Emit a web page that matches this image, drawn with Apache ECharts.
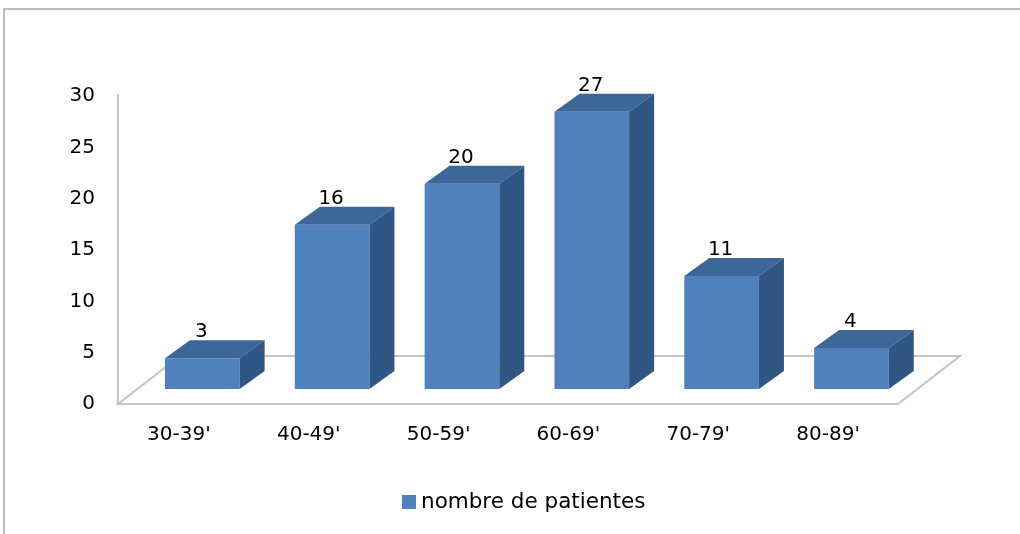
<!DOCTYPE html>
<html>
<head>
<meta charset="utf-8">
<script src="https://cdn.jsdelivr.net/npm/echarts@6/dist/echarts.min.js"></script>
<style>
  html, body { margin: 0; padding: 0; background: #ffffff; }
  #chart { width: 1020px; height: 534px; }
</style>
</head>
<body>
<div id="chart"></div>
<script>
// Age groups and patient counts
var categories = ["30-39'", "40-49'", "50-59'", "60-69'", "70-79'", "80-89'"];
var patients = [3, 16, 20, 27, 11, 4];
var seriesName = 'nombre de patientes';
var yTicks = { min: 0, max: 30, interval: 5 };

var FONT = '"DejaVu Sans", "Open Sans", sans-serif';
var FRONT = '#4f81bd';
var TOP = '#3d6699';
var SIDE = '#305683';
var FLOOR = '#c4c4c4';

var chart = echarts.init(document.getElementById('chart'), null, { renderer: 'canvas' });

// Floor plane and vertical axis line, drawn behind the columns
function renderFloor(params, api) {
  var cs = params.coordSys;
  var y0 = api.coord([0, 0])[1];
  var yMax = api.coord([0, yTicks.max])[1];
  var xl = cs.x + 4, xr = cs.x + cs.width + 5;
  var dx = 62, dy = 48;
  return {
    type: 'group',
    children: [
      {
        type: 'polygon',
        shape: { points: [[xl, y0], [xl + dx, y0 - dy], [xr + dx, y0 - dy], [xr, y0]] },
        style: { fill: '#ffffff', stroke: FLOOR, lineWidth: 2 }
      },
      {
        type: 'line',
        shape: { x1: xl, y1: yMax - 2, x2: xl, y2: y0 },
        style: { stroke: FLOOR, lineWidth: 2 }
      }
    ]
  };
}

// 3D-looking column: front face, top face, right side face and value label
function renderBar(params, api) {
  var idx = api.value(0), val = api.value(1);
  var top = api.coord([idx, val]);
  var base = api.coord([idx, 0]);
  var band = api.size([1, 0])[0];
  var w = band * 0.575;
  var dx = 25, dy = 18, lift = 15;
  var cx = top[0] + band * 0.18;
  var x0 = cx - w / 2, x1 = cx + w / 2;
  var yb = base[1] - lift, yt = top[1] - lift;
  return {
    type: 'group',
    children: [
      {
        type: 'rect',
        shape: { x: x0, y: yt, width: w, height: yb - yt },
        style: { fill: FRONT }
      },
      {
        type: 'polygon',
        shape: { points: [[x0, yt], [x0 + dx, yt - dy], [x1 + dx, yt - dy], [x1, yt]] },
        style: { fill: TOP }
      },
      {
        type: 'polygon',
        shape: { points: [[x1, yt], [x1 + dx, yt - dy], [x1 + dx, yb - dy], [x1, yb]] },
        style: { fill: SIDE }
      },
      {
        type: 'text',
        z2: 10,
        style: {
          x: cx - 1, y: yt - dy - 8,
          text: String(val),
          fill: '#000000',
          font: '20px ' + FONT,
          textAlign: 'center', textVerticalAlign: 'middle'
        }
      }
    ]
  };
}

var option = {
  backgroundColor: '#ffffff',
  animation: false,
  graphic: [{
    type: 'rect',
    shape: { x: 4, y: 9, width: 1100, height: 700 },
    style: { fill: 'none', stroke: '#a6a6a6', lineWidth: 1.5 },
    silent: true
  }],
  grid: { left: 114, right: 127, top: 96, bottom: 130 },
  legend: {
    left: 397, top: 486,
    icon: 'rect', itemWidth: 14, itemHeight: 14, itemGap: 8,
    textStyle: { fontFamily: FONT, fontSize: 21.5, color: '#000000' },
    data: [seriesName]
  },
  xAxis: {
    type: 'category',
    data: categories,
    axisLine: { show: false },
    axisTick: { show: false },
    axisLabel: { margin: 21, fontFamily: FONT, fontSize: 20, color: '#000000' }
  },
  yAxis: {
    type: 'value',
    min: yTicks.min, max: yTicks.max, interval: yTicks.interval,
    axisLine: { show: false },
    axisTick: { show: false },
    splitLine: { show: false },
    axisLabel: { margin: 19, fontFamily: FONT, fontSize: 20, color: '#000000' }
  },
  series: [
    {
      type: 'custom',
      name: 'floor',
      silent: true,
      z: 1,
      renderItem: renderFloor,
      data: [[0, 0]]
    },
    {
      type: 'custom',
      name: seriesName,
      z: 2,
      itemStyle: { color: FRONT },
      renderItem: renderBar,
      encode: { x: 0, y: 1 },
      data: patients.map(function (v, i) { return [i, v]; })
    }
  ]
};

chart.setOption(option);
</script>
</body>
</html>
